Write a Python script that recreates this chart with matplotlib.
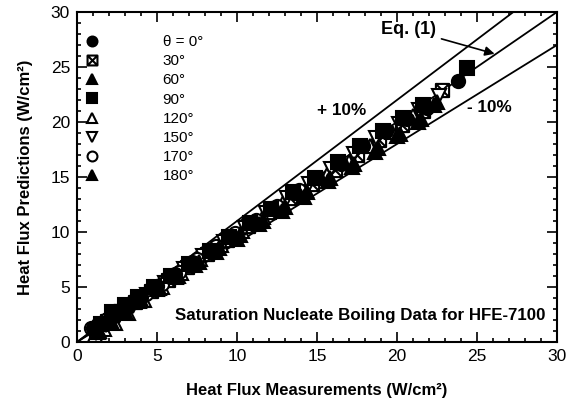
import matplotlib
matplotlib.use("Agg")
import matplotlib.pyplot as plt
from matplotlib.path import Path
from matplotlib.ticker import MultipleLocator

plt.rcParams["font.family"] = ["Liberation Sans", "DejaVu Sans"]

x_0 = [1.0, 1.6, 2.3, 3.1, 4.0, 5.0, 6.1, 7.2, 8.4, 9.6, 10.9, 12.2, 13.6, 15.0, 16.5, 17.9, 19.3, 20.6, 21.9, 23.8]
y_0 = [1.3, 1.7, 2.4, 3.2, 4.1, 5.1, 6.2, 7.3, 8.4, 9.6, 10.8, 12.2, 13.5, 14.9, 16.2, 17.8, 19.2, 20.3, 21.3, 23.7]

x_30 = [1.2, 1.9, 2.7, 3.6, 4.6, 5.7, 6.9, 8.1, 9.4, 10.7, 12.0, 13.3, 14.7, 16.1, 17.5, 18.9, 20.3, 21.6, 22.8]
y_30 = [1.1, 1.9, 2.8, 3.6, 4.6, 5.6, 6.8, 8.0, 9.3, 10.5, 11.8, 13.1, 14.4, 15.6, 17.0, 18.4, 19.7, 21.0, 22.9]

x_60 = [1.3, 2.0, 2.9, 3.9, 5.0, 6.2, 7.4, 8.7, 10.0, 11.4, 12.8, 14.2, 15.7, 17.2, 18.6, 20.0, 21.3, 22.3]
y_60 = [0.9, 1.8, 2.7, 3.7, 4.8, 5.9, 7.0, 8.2, 9.4, 10.7, 11.9, 13.2, 14.6, 15.9, 17.3, 18.7, 20.0, 21.5]

x_90 = [1.5, 2.2, 3.0, 3.8, 4.8, 5.9, 7.0, 8.3, 9.5, 10.8, 12.1, 13.5, 14.9, 16.3, 17.7, 19.1, 20.4, 21.6, 24.4]
y_90 = [1.6, 2.7, 3.4, 4.1, 5.0, 6.0, 7.1, 8.3, 9.5, 10.8, 12.1, 13.6, 14.9, 16.4, 17.8, 19.2, 20.4, 21.5, 24.9]

x_120 = [1.1, 1.7, 2.4, 3.2, 4.2, 5.3, 6.5, 7.7, 9.0, 10.3, 11.6, 12.9, 14.3, 15.6, 17.0, 18.3, 19.7, 21.0]
y_120 = [0.6, 1.2, 1.7, 2.6, 3.8, 5.0, 6.3, 7.5, 8.8, 10.1, 11.4, 12.6, 13.8, 15.2, 16.4, 17.8, 19.1, 20.5]

x_150 = [1.2, 1.8, 2.6, 3.5, 4.4, 5.5, 6.7, 7.9, 9.2, 10.5, 11.8, 13.1, 14.5, 15.9, 17.3, 18.7, 20.1, 21.4, 22.6]
y_150 = [0.8, 1.5, 2.4, 3.3, 4.3, 5.4, 6.6, 7.8, 9.1, 10.4, 11.7, 13.1, 14.4, 15.7, 17.1, 18.5, 19.8, 21.1, 22.4]

x_170 = [0.9, 1.3, 1.9, 2.6, 3.4, 4.3, 5.3, 6.4, 7.5, 8.7, 9.9, 11.2, 12.5, 13.9]
y_170 = [1.3, 1.6, 2.1, 2.8, 3.5, 4.4, 5.3, 6.4, 7.5, 8.7, 9.9, 11.1, 12.4, 13.8]

x_180 = [1.4, 2.1, 3.0, 4.0, 5.1, 6.3, 7.6, 8.9, 10.2, 11.6, 13.0, 14.4, 15.8, 17.3, 18.8, 20.2, 21.5, 22.5]
y_180 = [1.0, 1.9, 2.8, 3.8, 4.9, 6.0, 7.3, 8.5, 9.7, 11.0, 12.3, 13.6, 14.9, 16.2, 17.6, 18.9, 20.3, 21.8]

labels = ["\u03b8 = 0\u00b0", "30\u00b0", "60\u00b0", "90\u00b0", "120\u00b0", "150\u00b0", "170\u00b0", "180\u00b0"]

# reference lines: Eq. (1) and +/- 10 %
line_x = [0, 30]
factors = [1.0, 1.1, 0.9]

# square with an X inside for 30 deg
boxx = Path([(-1, -1), (1, -1), (1, 1), (-1, 1), (-1, -1), (-1, -1), (1, 1), (-1, 1), (1, -1)],
            [Path.MOVETO, Path.LINETO, Path.LINETO, Path.LINETO, Path.CLOSEPOLY,
             Path.MOVETO, Path.LINETO, Path.MOVETO, Path.LINETO])

series = [
    (x_0, y_0, "o", "black"),
    (x_30, y_30, boxx, "white"),
    (x_60, y_60, "^", "black"),
    (x_90, y_90, "s", "black"),
    (x_120, y_120, "^", "white"),
    (x_150, y_150, "v", "white"),
    (x_170, y_170, "o", "white"),
    (x_180, y_180, "^", "black"),
]

fig = plt.figure(figsize=(5.68, 4.08), dpi=100)
ax = fig.add_axes([0.1356, 0.1618, 0.845, 0.8088])

for f in factors:
    ax.plot(line_x, [f * v for v in line_x], color="black", lw=1.3, zorder=1)

# open symbols underneath, filled ones on top -> dark band like the original
for (xs, ys, mk, fc), lab in zip(series, labels):
    z = 3 if fc == "black" else 2
    ax.plot(xs, ys, ls="none", marker=mk, ms=9.5, mfc=fc, mec="black", mew=1.5,
            label=lab, zorder=z)

ax.legend(loc="upper left", bbox_to_anchor=(0.0, 0.93), frameon=False, fontsize=11,
          handlelength=2, handletextpad=3.6, labelspacing=0.34, borderpad=0,
          borderaxespad=0, numpoints=1, markerscale=0.75)

ax.set_xlim(0, 30)
ax.set_ylim(0, 30)
ax.xaxis.set_major_locator(MultipleLocator(5))
ax.yaxis.set_major_locator(MultipleLocator(5))
ax.xaxis.set_minor_locator(MultipleLocator(1))
ax.yaxis.set_minor_locator(MultipleLocator(1))
ax.tick_params(which="both", direction="in", top=True, right=True, labelsize=12.5, width=1.2)
ax.tick_params(which="major", length=7, pad=5)
ax.tick_params(which="minor", length=3)
for s in ax.spines.values():
    s.set_linewidth(1.5)

ax.set_xlabel("Heat Flux Measurements (W/cm\u00b2)", fontsize=12, fontweight="bold", labelpad=14)
ax.set_ylabel("Heat Flux Predictions (W/cm\u00b2)", fontsize=12, fontweight="bold", labelpad=13)

ax.annotate("Eq. (1)", xy=(26.1, 26.2), xytext=(19.0, 28.4), fontsize=13, fontweight="bold",
            va="center", arrowprops=dict(arrowstyle="-|>", color="black", lw=1.2,
                                         mutation_scale=14, shrinkA=2, shrinkB=0))
ax.text(15.0, 21.0, "+ 10%", fontsize=12.3, fontweight="bold", va="center")
ax.text(24.4, 21.3, "- 10%", fontsize=12.3, fontweight="bold", va="center")
ax.text(6.1, 2.4, "Saturation Nucleate Boiling Data for HFE-7100", fontsize=12.2,
        fontweight="bold", va="center")

fig.savefig("out.png", dpi=100)
